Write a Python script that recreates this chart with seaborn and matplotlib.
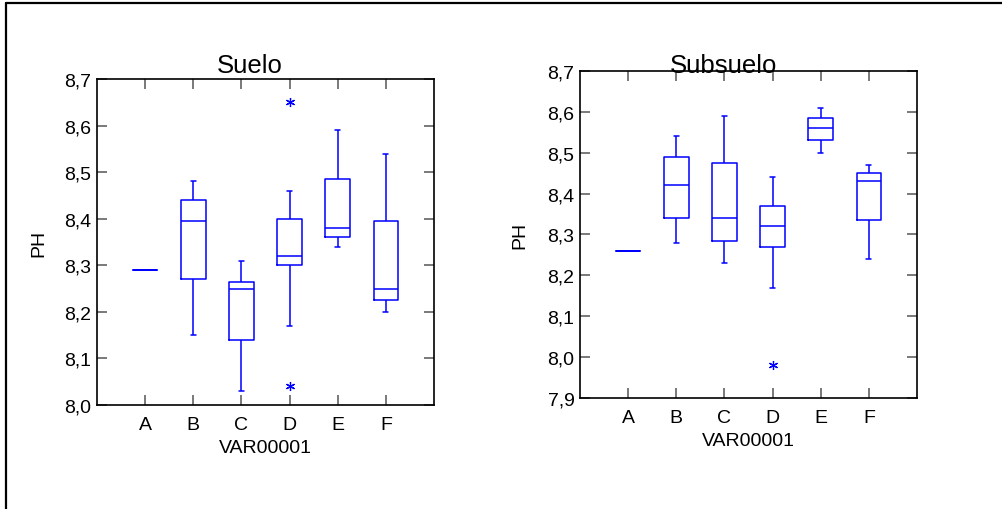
import numpy as np
import pandas as pd
import matplotlib
matplotlib.use("Agg")
import matplotlib.pyplot as plt
from matplotlib.lines import Line2D
import seaborn as sns

# categories of VAR00001
categories = ["A", "B", "C", "D", "E", "F"]

# estimated pH observations per group, read off the boxes
suelo_A = [8.29]
suelo_B = [8.15, 8.27, 8.395, 8.44, 8.48]
suelo_C = [8.03, 8.14, 8.25, 8.265, 8.31]
suelo_D = [8.04, 8.17, 8.30, 8.31, 8.32, 8.36, 8.40, 8.46, 8.65]
suelo_E = [8.34, 8.36, 8.38, 8.485, 8.59]
suelo_F = [8.20, 8.225, 8.25, 8.395, 8.54]

subsuelo_A = [8.26]
subsuelo_B = [8.28, 8.34, 8.42, 8.49, 8.54]
subsuelo_C = [8.23, 8.285, 8.34, 8.475, 8.59]
subsuelo_D = [7.98, 8.17, 8.27, 8.30, 8.32, 8.35, 8.37, 8.40, 8.44]
subsuelo_E = [8.50, 8.53, 8.56, 8.585, 8.61]
subsuelo_F = [8.24, 8.335, 8.43, 8.45, 8.47]

suelo_ticks = [8.0, 8.1, 8.2, 8.3, 8.4, 8.5, 8.6, 8.7]
subsuelo_ticks = [7.9, 8.0, 8.1, 8.2, 8.3, 8.4, 8.5, 8.6, 8.7]


def to_long(groups):
    rows = []
    for cat, vals in zip(categories, groups):
        for v in vals:
            rows.append({"VAR00001": cat, "PH": v})
    return pd.DataFrame(rows)


df_suelo = to_long([suelo_A, suelo_B, suelo_C, suelo_D, suelo_E, suelo_F])
df_subsuelo = to_long([subsuelo_A, subsuelo_B, subsuelo_C, subsuelo_D, subsuelo_E, subsuelo_F])

sns.set_style("white")
plt.rcParams["font.family"] = ["Liberation Sans", "DejaVu Sans"]
plt.rcParams["text.color"] = "black"
plt.rcParams["axes.labelcolor"] = "black"

fig = plt.figure(figsize=(10.02, 5.10), dpi=100)
ax1 = fig.add_axes([97 / 1002, 104 / 510, 337 / 1002, 326 / 510])
ax2 = fig.add_axes([580 / 1002, 111 / 510, 337 / 1002, 327 / 510])

flier = dict(marker=(6, 2, 0), markersize=6.5, markeredgecolor="blue",
             markerfacecolor="none", markeredgewidth=0.9)


def draw(ax, df, ticks, title, title_x, title_y, ylab_x):
    sns.boxplot(data=df, x="VAR00001", y="PH", order=categories, ax=ax,
                fill=False, color="blue", saturation=1, linewidth=1.1,
                width=0.51, whis=1.5, capwidths=0.1, flierprops=flier)
    ax.set_xlim(-1, 6)
    ax.set_ylim(ticks[0], ticks[-1])
    ax.set_yticks(ticks)
    ax.set_yticklabels([f"{t:.1f}".replace(".", ",") for t in ticks])
    ax.set_xticks(range(len(categories)))
    ax.set_xticklabels(categories)
    ax.tick_params(axis="both", direction="in", length=7, width=1.1,
                   color="#555555", labelsize=14, labelcolor="black",
                   top=True, right=True, bottom=True, left=True)
    ax.tick_params(axis="x", pad=8)
    ax.tick_params(axis="y", pad=4)
    for s in ax.spines.values():
        s.set_color("black")
        s.set_linewidth(1.2)
        s.set_visible(True)
    ax.set_xlabel("VAR00001", fontsize=14, color="black")
    ax.set_ylabel("PH", fontsize=14, color="black")
    ax.xaxis.set_label_coords(0.5, -0.103)
    ax.yaxis.set_label_coords(ylab_x, 0.5)
    ax.set_title(title, fontsize=18.5, x=title_x, y=title_y, pad=0, color="black")


draw(ax1, df_suelo, suelo_ticks, "Suelo", 0.454, 1.0215, -0.148)
draw(ax2, df_subsuelo, subsuelo_ticks, "Subsuelo", 0.427, 0.998, -0.154)

# outer frame (left and top edges)
fig.add_artist(Line2D([6 / 1002, 6 / 1002], [0, 506 / 510],
                      transform=fig.transFigure, color="black", linewidth=1.6))
fig.add_artist(Line2D([6 / 1002, 1], [506 / 510, 506 / 510],
                      transform=fig.transFigure, color="black", linewidth=1.6))

fig.savefig("out.png", dpi=100)
